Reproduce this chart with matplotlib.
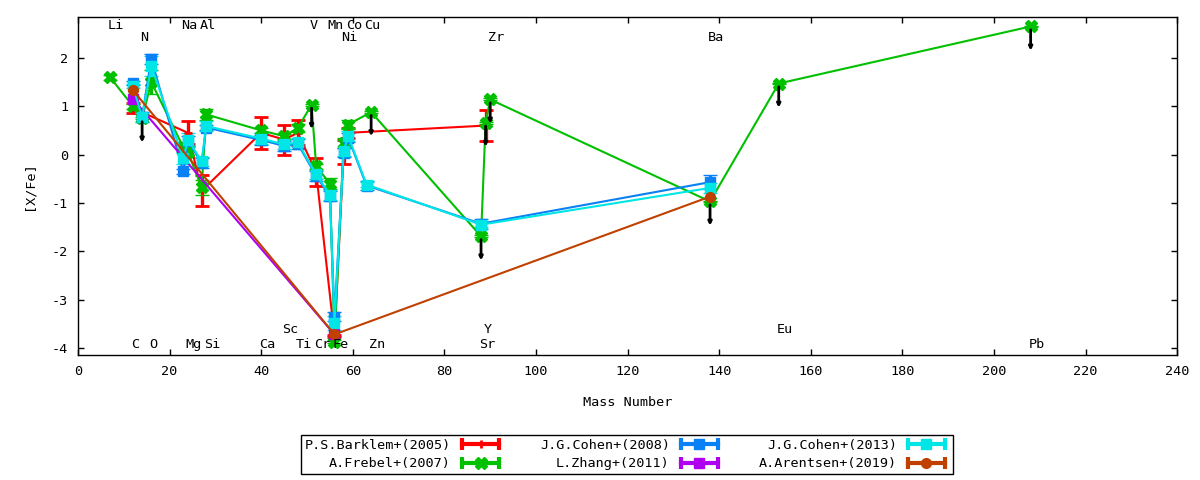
import matplotlib.pyplot as plt
from matplotlib.lines import Line2D
from matplotlib.legend_handler import HandlerLine2D, HandlerTuple

plt.rcParams['font.family'] = ['DejaVu Sans Mono']
plt.rcParams['font.size'] = 9.7
plt.rcParams['axes.unicode_minus'] = False

# element labels placed along top / bottom of the frame
label_top = ['Li', 'Na', 'Al', 'V', 'Mn', 'Co', 'Cu']
label_top_mass = [7, 23, 27, 51, 55, 59, 63]
label_top2 = ['N', 'Ni', 'Zr', 'Ba']
label_top2_mass = [14, 58, 90, 138]
label_bot = ['C', 'O', 'Mg', 'Si', 'Ca', 'Ti', 'Cr', 'Fe', 'Zn', 'Sr', 'Pb']
label_bot_mass = [12, 16, 24, 28, 40, 48, 52, 56, 64, 88, 208]
label_bot2 = ['Sc', 'Y', 'Eu']
label_bot2_mass = [45, 89, 153]

# P.S.Barklem+(2005)
barklem_mass = [12, 24, 27, 40, 45, 48, 52, 56, 58, 59, 89]
barklem_val = [0.96, 0.45, -0.75, 0.45, 0.31, 0.45, -0.37, -3.75, 0.05, 0.45, 0.60]
barklem_err = [0.10, 0.24, 0.32, 0.33, 0.31, 0.26, 0.29, 0.02, 0.25, 0.10, 0.32]

# A.Frebel+(2007)
frebel_mass = [7, 12, 14, 16, 23, 24, 27, 28, 40, 45, 48, 51, 52, 55, 56, 58, 59, 64, 88, 89, 90, 138, 153, 208]
frebel_val = [1.60, 1.00, 0.75, 1.50, 0.15, 0.05, -0.68, 0.83, 0.50, 0.38, 0.55, 1.03, -0.24, -0.60,
              -3.87, 0.24, 0.62, 0.88, -1.69, 0.66, 1.14, -0.97, 1.47, 2.65]
frebel_err = [0.05, 0.05, 0.02, 0.25, 0.10, 0.10, 0.15, 0.12, 0.05, 0.05, 0.08, 0.02, 0.05, 0.12,
              0.03, 0.10, 0.10, 0.02, 0.02, 0.02, 0.02, 0.02, 0.02, 0.02]
frebel_limit = [False, False, True, False, False, False, False, False, False, False, False, True,
                False, False, False, False, False, True, True, True, True, True, True, True]

# J.G.Cohen+(2008)
cohen08_mass = [12, 14, 16, 23, 24, 27, 28, 40, 45, 48, 52, 55, 56, 58, 59, 63, 88, 138]
cohen08_val = [1.48, 0.78, 1.98, -0.35, 0.28, -0.17, 0.56, 0.30, 0.18, 0.22, -0.44, -0.86,
               -3.35, 0.04, 0.35, -0.64, -1.43, -0.57]
cohen08_err = [0.05, 0.10, 0.10, 0.05, 0.10, 0.10, 0.05, 0.10, 0.10, 0.10, 0.10, 0.10,
               0.10, 0.10, 0.10, 0.10, 0.10, 0.15]

# L.Zhang+(2011)
zhang_mass = [12, 56]
zhang_val = [1.15, -3.72]

# J.G.Cohen+(2013)
cohen13_mass = [12, 14, 16, 23, 24, 27, 28, 40, 45, 48, 52, 55, 56, 58, 59, 63, 88, 138]
cohen13_val = [1.42, 0.77, 1.83, -0.08, 0.31, -0.14, 0.59, 0.33, 0.21, 0.25, -0.41, -0.83,
               -3.48, 0.07, 0.38, -0.62, -1.45, -0.69]
cohen13_err = [0.05, 0.10, 0.20, 0.12, 0.14, 0.10, 0.10, 0.12, 0.10, 0.10, 0.10, 0.10,
               0.15, 0.10, 0.10, 0.05, 0.05, 0.10]

# A.Arentsen+(2019)
arentsen_mass = [12, 56, 138]
arentsen_val = [1.33, -3.72, -0.87]

series = [
    ('P.S.Barklem+(2005)', barklem_mass, barklem_val, barklem_err, '#ff0000', '+', 6),
    ('A.Frebel+(2007)', frebel_mass, frebel_val, frebel_err, '#00c000', 'X', 8),
    ('J.G.Cohen+(2008)', cohen08_mass, cohen08_val, cohen08_err, '#0a80f5', 's', 7),
    ('L.Zhang+(2011)', zhang_mass, zhang_val, None, '#b000f0', 's', 7),
    ('J.G.Cohen+(2013)', cohen13_mass, cohen13_val, cohen13_err, '#00e5e5', 's', 7),
    ('A.Arentsen+(2019)', arentsen_mass, arentsen_val, None, '#c04000', 'o', 7),
]

fig, ax = plt.subplots(figsize=(12, 4.8), dpi=100)
fig.subplots_adjust(left=0.065, right=0.981, top=0.965, bottom=0.26)

handles = []
labels = []
hmap = {tuple: HandlerTuple(ndivide=1, pad=0)}
for name, m, v, e, c, mk, ms in series:
    ax.errorbar(m, v, yerr=e, color=c, marker=mk, ms=ms, mec=c, mew=2 if mk == '+' else 1,
                lw=1.5, elinewidth=2.4, capsize=5, capthick=2.4)
    caps = Line2D([], [], color=c, lw=3, marker='|', ms=9, mew=3)
    dot = Line2D([], [], color=c, lw=0, marker=mk, ms=ms, mec=c, mew=2 if mk == '+' else 1)
    hmap[caps] = HandlerLine2D(numpoints=2)
    handles.append((caps, dot))
    labels.append(name)

# upper limits of Frebel+(2007) as black arrows
for m, v, lim in zip(frebel_mass, frebel_val, frebel_limit):
    if lim:
        ax.annotate('', xy=(m, v - 0.5), xytext=(m, v - 0.07),
                    arrowprops=dict(arrowstyle='-|>,head_length=0.2,head_width=0.1',
                                    color='black', lw=2, shrinkA=0, shrinkB=0))

for names, masses, y in [(label_top, label_top_mass, 2.67), (label_top2, label_top2_mass, 2.42),
                         (label_bot, label_bot_mass, -3.93), (label_bot2, label_bot2_mass, -3.62)]:
    for s, m in zip(names, masses):
        ax.text(m - 0.5, y, s, ha='left', va='center')

ax.set_xlim(0, 240)
ax.set_ylim(-4.15, 2.85)
ax.set_xticks(range(0, 241, 20))
ax.set_yticks(range(-4, 3))
ax.tick_params(direction='in', length=4, width=1, top=True, right=True, pad=7)
for sp in ax.spines.values():
    sp.set_linewidth(1)
ax.set_xlabel('Mass Number', labelpad=13)
ax.set_ylabel('[X/Fe]', labelpad=12)

leg = ax.legend(handles, labels, handler_map=hmap, ncol=3, markerfirst=False, loc='center',
                bbox_to_anchor=(0.5225, 0.053), bbox_transform=fig.transFigure,
                fancybox=False, edgecolor='black', framealpha=1, handlelength=3.4,
                handletextpad=0.5, columnspacing=2.7, labelspacing=0.4, borderpad=0.3)
leg.get_frame().set_linewidth(1)

plt.savefig('out.png', dpi=100)
